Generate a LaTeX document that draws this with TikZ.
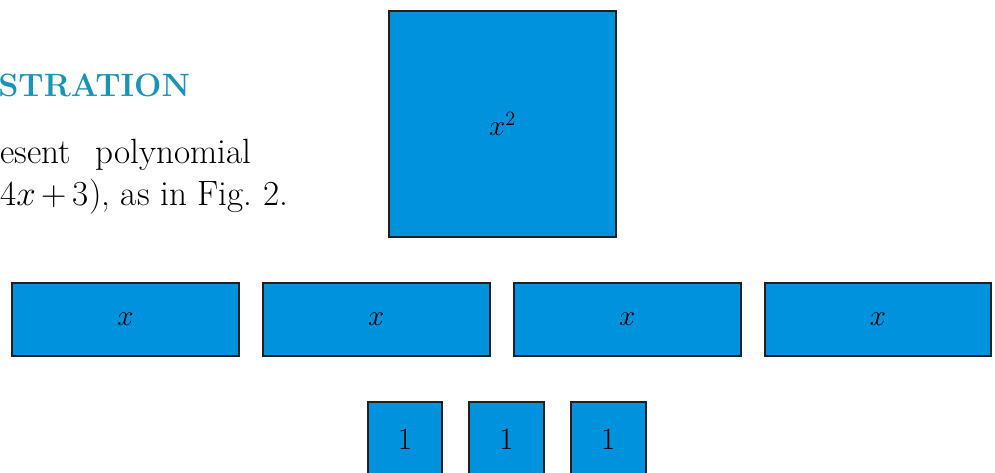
\documentclass[tikz,border=0pt]{standalone}
\definecolor{tileblue}{RGB}{0, 146, 221}
\definecolor{tileedge}{RGB}{35, 31, 32}
\definecolor{headteal}{RGB}{25, 148, 182}
\usetikzlibrary{positioning}

\begin{document}
\begin{tikzpicture}[x=0.025cm, y=-0.025cm,
    tile/.style={draw=tileedge, fill=tileblue, line width=1.4pt, inner sep=0pt},
    sqtile/.style={tile, minimum width=5.65cm, minimum height=5.65cm, font=\fontsize{20}{24}\selectfont},
    xtile/.style={tile, minimum width=5.67cm, minimum height=1.84cm, font=\fontsize{20}{24}\selectfont},
    onetile/.style={tile, minimum width=1.87cm, minimum height=1.87cm, font=\fontsize{22}{26}\selectfont},
    bodytext/.style={anchor=base west, inner sep=0pt, font=\fontsize{25}{30}\selectfont}]
        \clip (0,0) rectangle (995,473);
        % Heading and text
        \node[bodytext, text=headteal, font=\fontsize{23}{30}\selectfont\bfseries] (head) at (-2,97) {STRATION};
        \node[bodytext] (line1) at (0,164) {esent\hspace{0.7em}polynomial};
        \node[bodytext] (line2) at (0,205) {4$x$\,+\,3), as in Fig.~2.};

        % Square tile
        \node[sqtile] (sq) at (502.5,124) {$x^{2}$};

        % Row of x tiles
        \node[xtile] (x1) at (125.5,319.5) {$x$};
        \node[xtile, right=0.55cm of x1] (x2) {$x$};
        \node[xtile, right=0.55cm of x2] (x3) {$x$};
        \node[xtile, right=0.55cm of x3] (x4) {$x$};

        % Unit tiles
        \node[onetile] (u1) at (405,439) {1};
        \node[onetile, right=0.62cm of u1] (u2) {1};
        \node[onetile, right=0.62cm of u2] (u3) {1};
    \end{tikzpicture}
\end{document}
